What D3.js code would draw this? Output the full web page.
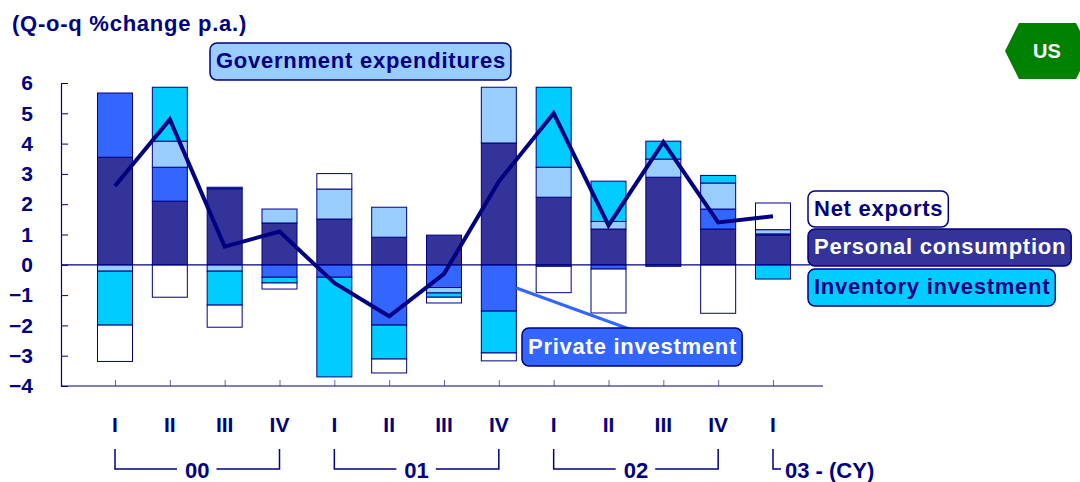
<!DOCTYPE html>
<html>
<head>
<meta charset="utf-8">
<script src="https://cdn.jsdelivr.net/npm/d3@7"></script>
<style>
  body { margin: 0; background: #fff; }
  text { font-family: "Liberation Sans", Arial, sans-serif; font-weight: bold; }
</style>
</head>
<body>
<div id="chart"></div>
<script>
const width = 1080;
const height = 482;

// quarters 2000 Q1 .. 2003 Q1
const quarters = ["00-I", "00-II", "00-III", "00-IV", "01-I", "01-II", "01-III", "01-IV",
  "02-I", "02-II", "02-III", "02-IV", "03-I"];
const quarterLabels = ["I", "II", "III", "IV", "I", "II", "III", "IV", "I", "II", "III", "IV", "I"];
const yearLabels = ["00", "01", "02", "03 - (CY)"];
const yearFirst = [0, 4, 8, 12];
const yearLast = [3, 7, 11, 12];
const yTicks = [-4, -3, -2, -1, 0, 1, 2, 3, 4, 5, 6];

// contributions to growth (% pts)
const personal   = [3.55, 2.10, 2.51, 1.38, 1.51, 0.91, 0.98, 4.02, 2.23, 1.18, 2.89, 1.18, 0.98];
const privateInv = [2.12, 1.12, 0.05, -0.41, -0.41, -1.99, -0.75, -1.53, -0.05, -0.14, -0.05, 0.66, 0.04];
const government = [-0.21, 0.86, -0.21, 0.46, 0.99, 0.99, -0.18, 1.84, 0.99, 0.25, 0.60, 0.86, 0.14];
const inventory  = [-1.78, 1.78, -1.12, -0.19, -3.29, -1.12, -0.14, -1.38, 2.64, 1.33, 0.59, 0.25, -0.47];
const netExports = [-1.20, -1.07, -0.73, -0.20, 0.51, -0.46, -0.19, -0.26, -0.87, -1.45, 0, -1.60, 0.88];
// real GDP q-o-q % change p.a.
const gdp = [2.6, 4.8, 0.6, 1.1, -0.6, -1.7, -0.3, 2.75, 5.0, 1.3, 4.05, 1.4, 1.6];

const seriesKeys = ["personal", "privateInv", "government", "inventory", "netExports"];
const seriesNames = ["Personal consumption", "Private investment", "Government expenditures",
  "Inventory investment", "Net exports"];
const seriesColors = ["#333399", "#3366ff", "#99ccff", "#00ccff", "#ffffff"];
const seriesTextColors = ["#fff", "#fff", "#000080", "#000080", "#000080"];

const navy = "#000080";
const plot = { left: 61, right: 823, top: 83, bottom: 386 };
const barWidth = 35;

const svg = d3.select("#chart")
  .append("svg")
  .attr("width", width)
  .attr("height", height);

const rows = quarters.map((q, i) => ({
  q,
  personal: personal[i],
  privateInv: privateInv[i],
  government: government[i],
  inventory: inventory[i],
  netExports: netExports[i]
}));

const x = d3.scalePoint()
  .domain(quarters)
  .range([115, 773]);

const y = d3.scaleLinear()
  .domain([-4, 6])
  .range([plot.bottom, plot.top]);

const stacked = d3.stack()
  .keys(seriesKeys)
  .offset(d3.stackOffsetDiverging)(rows);

// bars
svg.append("g")
  .selectAll("g")
  .data(stacked)
  .join("g")
  .attr("fill", (d, i) => seriesColors[i])
  .selectAll("rect")
  .data(d => d)
  .join("rect")
  .attr("x", d => x(d.data.q) - barWidth / 2)
  .attr("width", barWidth)
  .attr("y", d => y(Math.max(d[0], d[1])))
  .attr("height", d => Math.abs(y(d[0]) - y(d[1])))
  .attr("stroke", navy)
  .attr("stroke-width", 1);

// zero line
svg.append("line")
  .attr("x1", plot.left).attr("x2", plot.right - 13)
  .attr("y1", y(0)).attr("y2", y(0))
  .attr("stroke", navy).attr("stroke-width", 1.2);

// y axis
const yAxis = d3.axisLeft(y)
  .tickValues(yTicks)
  .tickSize(-7)
  .tickSizeOuter(0)
  .tickPadding(28)
  .tickFormat(d3.format("d"));

const yg = svg.append("g")
  .attr("transform", `translate(${plot.left},0)`)
  .call(yAxis);
yg.select(".domain").attr("stroke", navy).attr("stroke-width", 1.2);
yg.selectAll(".tick line").attr("stroke", navy);
yg.selectAll(".tick text")
  .attr("fill", navy)
  .style("font-size", "21px")
  .style("font-family", "'Liberation Sans', Arial, sans-serif")
  .style("font-weight", "bold");

// x axis
const xAxis = d3.axisBottom(x)
  .tickSize(-6)
  .tickSizeOuter(0)
  .tickFormat("");
const xg = svg.append("g")
  .attr("transform", `translate(0,${plot.bottom})`)
  .call(xAxis);
xg.select(".domain").remove();
xg.selectAll(".tick line").attr("stroke", navy).attr("stroke-opacity", 0.6);
svg.append("line")
  .attr("x1", plot.left).attr("x2", plot.right)
  .attr("y1", plot.bottom).attr("y2", plot.bottom)
  .attr("stroke", navy).attr("stroke-width", 1.2);

// GDP line
const line = d3.line()
  .x((d, i) => x(quarters[i]))
  .y(d => y(d));
svg.append("path")
  .datum(gdp)
  .attr("fill", "none")
  .attr("stroke", navy)
  .attr("stroke-width", 4)
  .attr("d", line);

// quarter labels
svg.append("g")
  .selectAll("text")
  .data(quarterLabels)
  .join("text")
  .attr("x", (d, i) => x(quarters[i]))
  .attr("y", 432)
  .attr("text-anchor", "middle")
  .attr("fill", navy)
  .style("font-size", "21px")
  .text(d => d);

// year brackets
const bracketTop = 449;
const bracketY = 469;
yearLabels.forEach((lab, i) => {
  const x0 = x(quarters[yearFirst[i]]);
  const x1 = x(quarters[yearLast[i]]);
  const g = svg.append("g").attr("stroke", navy).attr("stroke-width", 1.5).attr("fill", "none");
  const t = svg.append("text")
    .attr("y", 478)
    .attr("fill", navy)
    .style("font-size", "22px")
    .text(lab);
  const w = t.node().getComputedTextLength();
  if (x1 > x0) {
    const cx = (x0 + x1) / 2;
    t.attr("x", cx).attr("text-anchor", "middle");
    g.append("path").attr("d",
      `M${x0},${bracketTop}V${bracketY}H${cx - w / 2 - 8}M${cx + w / 2 + 7},${bracketY}H${x1}V${bracketTop}`);
  } else {
    t.attr("x", x0 + 12);
    g.append("path").attr("d", `M${x0},${bracketTop}V${bracketY}H${x0 + 8}`);
  }
});

// title
svg.append("text")
  .attr("x", 12)
  .attr("y", 31)
  .attr("fill", navy)
  .style("font-size", "22px")
  .style("letter-spacing", "0.75px")
  .text("(Q-o-q %change p.a.)");

// callout labels
const labelBoxes = [
  { key: "government", x: 210, y: 43, h: 37 },
  { key: "netExports", x: 808, y: 191, h: 36 },
  { key: "personal", x: 808, y: 229, h: 37 },
  { key: "inventory", x: 808, y: 269, h: 37 },
  { key: "privateInv", x: 522, y: 328, h: 38 }
];

// connector from 01-IV private investment segment to its label
const piLayer = stacked[seriesKeys.indexOf("privateInv")];
const piSeg = piLayer[quarters.indexOf("01-IV")];
svg.append("line")
  .attr("x1", x("01-IV") + barWidth / 2)
  .attr("y1", y((piSeg[0] + piSeg[1]) / 2))
  .attr("x2", 632)
  .attr("y2", 330)
  .attr("stroke", "#3366ff")
  .attr("stroke-width", 3);

labelBoxes.forEach(b => {
  const i = seriesKeys.indexOf(b.key);
  const g = svg.append("g");
  const rect = g.append("rect")
    .attr("x", b.x).attr("y", b.y)
    .attr("height", b.h)
    .attr("rx", 7)
    .attr("fill", seriesColors[i])
    .attr("stroke", navy)
    .attr("stroke-width", 1.5);
  const t = g.append("text")
    .attr("x", b.x + 6)
    .attr("y", b.y + b.h / 2 + 6.5)
    .attr("fill", seriesTextColors[i])
    .style("font-size", "22px")
    .style("letter-spacing", "0.75px")
    .text(seriesNames[i]);
  rect.attr("width", t.node().getComputedTextLength() + 11);
});

// country badge
const hex = [[1005, 51], [1019, 23], [1076, 23], [1090, 51], [1076, 79], [1019, 79]];
svg.append("path")
  .attr("d", d3.line()(hex) + "Z")
  .attr("fill", "#008000");
svg.append("text")
  .attr("x", 1047)
  .attr("y", 58)
  .attr("text-anchor", "middle")
  .attr("fill", "#fff")
  .style("font-size", "20px")
  .text("US");
</script>
</body>
</html>
